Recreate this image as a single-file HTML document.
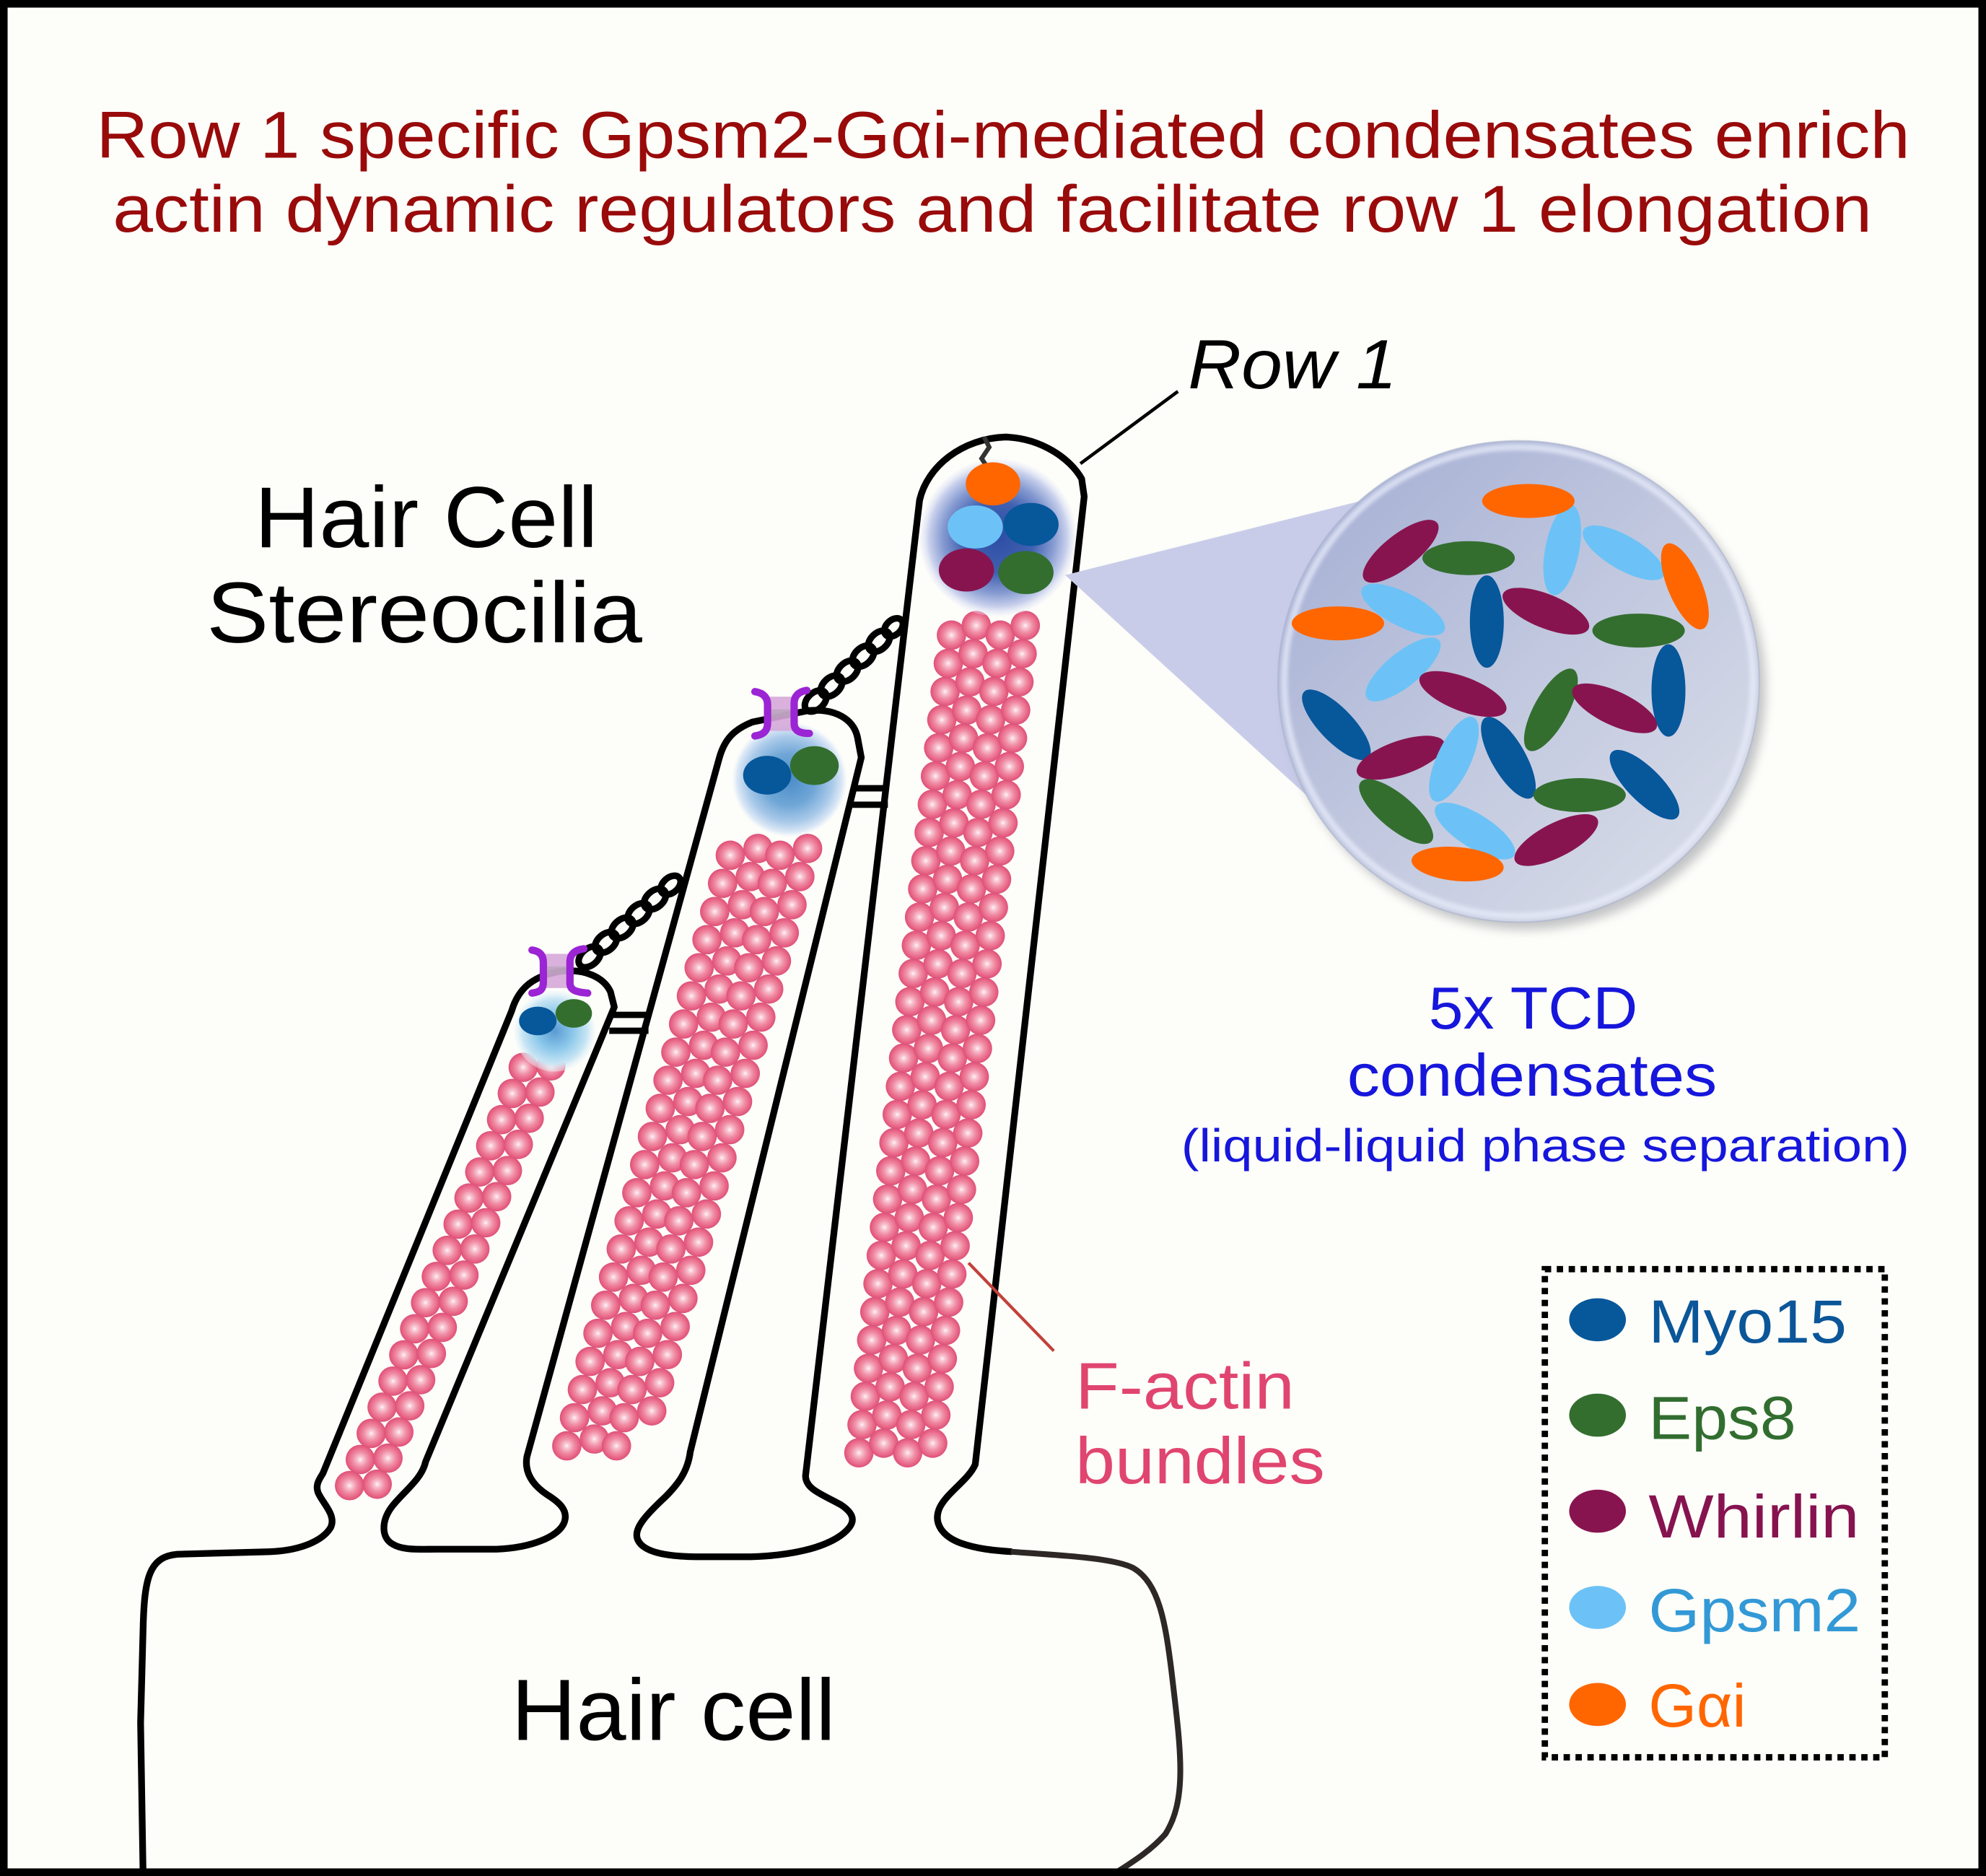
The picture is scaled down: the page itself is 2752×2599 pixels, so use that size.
<!DOCTYPE html>
<html>
<head>
<meta charset="utf-8">
<style>
html,body{margin:0;padding:0;background:#fdfdf9;overflow:hidden;}
svg{display:block;}
</style>
</head>
<body>
<svg xmlns="http://www.w3.org/2000/svg" xmlns:xlink="http://www.w3.org/1999/xlink" width="2752" height="2599" viewBox="0 0 1568 1481" preserveAspectRatio="none" font-family="'Liberation Sans', Arial, sans-serif">
<defs>
  <radialGradient id="sph" cx="0.5" cy="0.5" r="0.5">
    <stop offset="0" stop-color="#fff4f7"/>
    <stop offset="0.18" stop-color="#f8c6d2"/>
    <stop offset="0.5" stop-color="#f08ea6"/>
    <stop offset="0.82" stop-color="#e86586"/>
    <stop offset="1" stop-color="#dc5078"/>
  </radialGradient>
  <radialGradient id="g1" cx="0.5" cy="0.5" r="0.5">
    <stop offset="0" stop-color="#2d4ea5"/>
    <stop offset="0.45" stop-color="#4060b0"/>
    <stop offset="0.7" stop-color="#8499d0"/>
    <stop offset="0.88" stop-color="#c8d0ec"/>
    <stop offset="1" stop-color="#eef0fa" stop-opacity="0.3"/>
  </radialGradient>
  <radialGradient id="g2" cx="0.5" cy="0.5" r="0.5">
    <stop offset="0" stop-color="#4c8cc8"/>
    <stop offset="0.45" stop-color="#6fa6d6"/>
    <stop offset="0.75" stop-color="#a9c9e9"/>
    <stop offset="0.93" stop-color="#dde9f6"/>
    <stop offset="1" stop-color="#f2f6fb" stop-opacity="0.4"/>
  </radialGradient>
  <radialGradient id="g3" cx="0.5" cy="0.5" r="0.5">
    <stop offset="0" stop-color="#5a9ad3"/>
    <stop offset="0.45" stop-color="#8cc8ea"/>
    <stop offset="0.8" stop-color="#c8e5f4"/>
    <stop offset="1" stop-color="#eef7fb" stop-opacity="0.4"/>
  </radialGradient>
  <linearGradient id="cg" x1="0" y1="0" x2="1" y2="1">
    <stop offset="0" stop-color="#a2acd2"/>
    <stop offset="0.5" stop-color="#c1c8df"/>
    <stop offset="1" stop-color="#dde0ea"/>
  </linearGradient>
  <filter id="sh" x="-20%" y="-20%" width="140%" height="140%">
    <feGaussianBlur stdDeviation="4"/>
  </filter>
  <filter id="bl" x="-10%" y="-10%" width="120%" height="120%">
    <feGaussianBlur stdDeviation="1.5"/>
  </filter>
  <circle id="s" r="11.6" fill="url(#sph)"/>
  <g id="R1"><use xlink:href="#s" x="0" y="7.6"/><use xlink:href="#s" x="19.6" y="0"/><use xlink:href="#s" x="38.5" y="7.6"/><use xlink:href="#s" x="58.3" y="0"/></g>
  <g id="R2"><use xlink:href="#s" x="0" y="5.4"/><use xlink:href="#s" x="21.9" y="0"/><use xlink:href="#s" x="39.2" y="5.4"/><use xlink:href="#s" x="61" y="0"/></g>
  <g id="R3"><use xlink:href="#s" x="0" y="1.1"/><use xlink:href="#s" x="21.8" y="0"/></g>
</defs>

<rect x="0" y="0" width="1568" height="1481" fill="#fdfdf9"/>

<!-- Title -->
<text x="76" y="124.5" font-size="52.5" fill="#990a0a" textLength="1432" lengthAdjust="spacingAndGlyphs">Row 1 specific Gpsm2-Gαi-mediated condensates enrich</text>
<text x="89" y="183" font-size="52.5" fill="#990a0a" textLength="1389" lengthAdjust="spacingAndGlyphs">actin dynamic regulators and facilitate row 1 elongation</text>

<!-- Labels -->
<text x="201" y="432" font-size="68" fill="#000" textLength="271" lengthAdjust="spacingAndGlyphs">Hair Cell</text>
<text x="163" y="507" font-size="68" fill="#000" textLength="344" lengthAdjust="spacingAndGlyphs">Stereocilia</text>
<text x="938" y="306.5" font-size="55" font-style="italic" fill="#000" textLength="165" lengthAdjust="spacingAndGlyphs">Row 1</text>
<line x1="930" y1="309" x2="853" y2="366" stroke="#000" stroke-width="2.6"/>

<!-- Actin bundles: Row 1 -->
<g>
<use xlink:href="#R1" x="751.2" y="493.8"/>
<use xlink:href="#R1" x="748.7" y="516.1"/>
<use xlink:href="#R1" x="746.2" y="538.3"/>
<use xlink:href="#R1" x="743.6" y="560.6"/>
<use xlink:href="#R1" x="741.1" y="582.8"/>
<use xlink:href="#R1" x="738.6" y="605.1"/>
<use xlink:href="#R1" x="736.1" y="627.4"/>
<use xlink:href="#R1" x="733.6" y="649.6"/>
<use xlink:href="#R1" x="731.0" y="671.9"/>
<use xlink:href="#R1" x="728.5" y="694.1"/>
<use xlink:href="#R1" x="726.0" y="716.4"/>
<use xlink:href="#R1" x="723.5" y="738.7"/>
<use xlink:href="#R1" x="721.0" y="760.9"/>
<use xlink:href="#R1" x="718.4" y="783.2"/>
<use xlink:href="#R1" x="715.9" y="805.4"/>
<use xlink:href="#R1" x="713.4" y="827.7"/>
<use xlink:href="#R1" x="710.9" y="850.0"/>
<use xlink:href="#R1" x="708.4" y="872.2"/>
<use xlink:href="#R1" x="705.8" y="894.5"/>
<use xlink:href="#R1" x="703.3" y="916.7"/>
<use xlink:href="#R1" x="700.8" y="939.0"/>
<use xlink:href="#R1" x="698.3" y="961.3"/>
<use xlink:href="#R1" x="695.8" y="983.5"/>
<use xlink:href="#R1" x="693.2" y="1005.8"/>
<use xlink:href="#R1" x="690.7" y="1028.0"/>
<use xlink:href="#R1" x="688.2" y="1050.3"/>
<use xlink:href="#R1" x="685.7" y="1072.6"/>
<use xlink:href="#R1" x="683.2" y="1094.8"/>
<use xlink:href="#R1" x="680.6" y="1117.1"/>
<use xlink:href="#R1" x="678.1" y="1139.3"/>
</g>
<!-- Row 2 -->
<g>
<use xlink:href="#R2" x="576.6" y="669.8"/>
<use xlink:href="#R2" x="570.5" y="692.0"/>
<use xlink:href="#R2" x="564.3" y="714.2"/>
<use xlink:href="#R2" x="558.2" y="736.4"/>
<use xlink:href="#R2" x="552.0" y="758.6"/>
<use xlink:href="#R2" x="545.9" y="780.8"/>
<use xlink:href="#R2" x="539.7" y="803.0"/>
<use xlink:href="#R2" x="533.6" y="825.2"/>
<use xlink:href="#R2" x="527.4" y="847.4"/>
<use xlink:href="#R2" x="521.3" y="869.6"/>
<use xlink:href="#R2" x="515.1" y="891.8"/>
<use xlink:href="#R2" x="509.0" y="914.0"/>
<use xlink:href="#R2" x="502.8" y="936.2"/>
<use xlink:href="#R2" x="496.7" y="958.4"/>
<use xlink:href="#R2" x="490.5" y="980.6"/>
<use xlink:href="#R2" x="484.4" y="1002.8"/>
<use xlink:href="#R2" x="478.2" y="1025.0"/>
<use xlink:href="#R2" x="472.1" y="1047.2"/>
<use xlink:href="#R2" x="465.9" y="1069.4"/>
<use xlink:href="#R2" x="459.8" y="1091.6"/>
<use xlink:href="#R2" x="453.6" y="1113.8"/>
<use xlink:href="#s" x="447.5" y="1141.4"/>
<use xlink:href="#s" x="469.3" y="1136"/>
<use xlink:href="#s" x="486.7" y="1141.4"/>
</g>
<!-- Row 3 -->
<g>
<use xlink:href="#R3" x="413.1" y="841.5"/>
<use xlink:href="#R3" x="404.5" y="862.1"/>
<use xlink:href="#R3" x="396.0" y="882.8"/>
<use xlink:href="#R3" x="387.4" y="903.4"/>
<use xlink:href="#R3" x="378.8" y="924.1"/>
<use xlink:href="#R3" x="370.3" y="944.7"/>
<use xlink:href="#R3" x="361.7" y="965.3"/>
<use xlink:href="#R3" x="353.1" y="986.0"/>
<use xlink:href="#R3" x="344.5" y="1006.6"/>
<use xlink:href="#R3" x="336.0" y="1027.3"/>
<use xlink:href="#R3" x="327.4" y="1047.9"/>
<use xlink:href="#R3" x="318.8" y="1068.5"/>
<use xlink:href="#R3" x="310.3" y="1089.2"/>
<use xlink:href="#R3" x="301.7" y="1109.8"/>
<use xlink:href="#R3" x="293.1" y="1130.5"/>
<use xlink:href="#R3" x="284.5" y="1151.1"/>
<use xlink:href="#R3" x="276.0" y="1171.7"/>
</g>

<!-- Condensate glows -->
<circle cx="788" cy="424.5" r="62" fill="url(#g1)"/>
<circle cx="623.4" cy="615.4" r="45" fill="url(#g2)"/>
<circle cx="438" cy="814" r="32" fill="url(#g3)"/>

<!-- Outline -->
<path d="M113,1482 L111,1360 L113,1285 C114,1245 118,1229 140,1227 L213,1225 C238,1224 255,1216 261,1206 C266,1196 254,1186 251,1178 C249,1172 252,1168 255,1163 L404,798 C409,781 420,771 441,767 C462,764 477,772 482,783 L485,795 L336,1154 C333,1168 318,1178 309,1190 C301,1201 301,1214 310,1219 C318,1224 330,1223 345,1223 L392,1223 C420,1222 440,1213 445,1203 C450,1192 440,1185 432,1180 C420,1172 414,1162 416,1150 L568,598 C572,584 579,576 594,570 L638,561 C660,559 674,568 677,582 L680,598 L545,1146 C543,1162 535,1172 525,1182 C510,1196 501,1206 503,1214 C506,1225 525,1229 553,1229 L593,1229 C625,1228 650,1222 664,1212 C676,1203 676,1196 664,1188 C650,1180 636,1176 636,1165 L726,395 C732,368 760,346 794,345 C822,346 845,362 854,378 L856,392 L770,1156 C765,1168 748,1178 742,1190 C736,1203 745,1213 758,1218 C772,1223 785,1224 799,1225" fill="none" stroke="#000" stroke-width="5.3" stroke-linejoin="round"/>
<path d="M798,1225 C840,1228 880,1230 895,1238 C915,1250 920,1280 925,1320 C932,1380 938,1420 920,1448 C905,1465 885,1475 873,1484" fill="none" stroke="#2d2826" stroke-width="4.6"/>

<!-- Side links -->
<g stroke="#000" stroke-width="5">
<line x1="673" y1="622.3" x2="701" y2="622.3"/>
<line x1="673" y1="635.3" x2="701" y2="635.3"/>
<line x1="481" y1="801.2" x2="512" y2="801.2"/>
<line x1="481" y1="813.7" x2="512" y2="813.7"/>
</g>

<!-- Tip link chains -->
<g fill="none" stroke="#000" stroke-width="5.2">
<ellipse cx="644.0" cy="553.4" rx="10" ry="6.5" transform="rotate(-43.4 644.0 553.4)"/>
<ellipse cx="656.5" cy="541.6" rx="10" ry="6.5" transform="rotate(-43.4 656.5 541.6)"/>
<ellipse cx="669.0" cy="529.8" rx="10" ry="6.5" transform="rotate(-43.4 669.0 529.8)"/>
<ellipse cx="681.5" cy="518.0" rx="10" ry="6.5" transform="rotate(-43.4 681.5 518.0)"/>
<ellipse cx="694.0" cy="506.2" rx="10" ry="6.5" transform="rotate(-43.4 694.0 506.2)"/>
<ellipse cx="705.5" cy="495.3" rx="8.5" ry="5.8" transform="rotate(-43.4 705.5 495.3)"/>
<ellipse cx="465.5" cy="755.4" rx="10" ry="6.5" transform="rotate(-41.3 465.5 755.4)"/>
<ellipse cx="478.4" cy="744.0" rx="10" ry="6.5" transform="rotate(-41.3 478.4 744.0)"/>
<ellipse cx="491.3" cy="732.6" rx="10" ry="6.5" transform="rotate(-41.3 491.3 732.6)"/>
<ellipse cx="504.2" cy="721.2" rx="10" ry="6.5" transform="rotate(-41.3 504.2 721.2)"/>
<ellipse cx="517.1" cy="709.8" rx="10" ry="6.5" transform="rotate(-41.3 517.1 709.8)"/>
<ellipse cx="529.5" cy="698.8" rx="9" ry="6" transform="rotate(-41.3 529.5 698.8)"/>
</g>
<path d="M777,345 L781,353 L775,362 L781,371" fill="none" stroke="#333" stroke-width="3.6" stroke-linejoin="miter"/>

<!-- Channels -->
<g>
<rect x="604" y="550" width="25" height="27" fill="#d5a9d8" opacity="0.9"/>
<rect x="604" y="560" width="25" height="6" fill="#b7a3b9" opacity="0.7"/>
<path d="M596,546 C603,547 606,551 606,556 L606,571 C606,577 603,580 596,581" fill="none" stroke="#9b24d4" stroke-width="5.8" stroke-linecap="round"/>
<path d="M637,545 C630,546 627,550 627,555 L627,571 C627,576 630,579 639,579" fill="none" stroke="#9b24d4" stroke-width="5.8" stroke-linecap="round"/>
<rect x="428" y="753" width="23" height="27" fill="#d5a9d8" opacity="0.9"/>
<rect x="428" y="763" width="23" height="6" fill="#b7a3b9" opacity="0.7"/>
<path d="M420,750 C427,751 429,755 429,760 L429,775 C429,781 427,783 420,784" fill="none" stroke="#9b24d4" stroke-width="5.8" stroke-linecap="round"/>
<path d="M461,749 C453,750 450,754 450,759 L450,776 C450,781 453,783 464,784" fill="none" stroke="#9b24d4" stroke-width="5.8" stroke-linecap="round"/>
</g>

<!-- Condensate proteins in stereocilia -->
<ellipse cx="784" cy="382" rx="21.5" ry="17" fill="#ff6600"/>
<ellipse cx="770" cy="416" rx="21.8" ry="17" fill="#6cc2f6"/>
<ellipse cx="814" cy="414" rx="21.8" ry="17" fill="#07579b"/>
<ellipse cx="763" cy="450" rx="21.8" ry="17" fill="#88144f"/>
<ellipse cx="810" cy="452" rx="21.8" ry="17" fill="#336e2f"/>
<ellipse cx="605.7" cy="612" rx="19" ry="15.3" fill="#07579b"/>
<ellipse cx="643" cy="604.4" rx="19.2" ry="15.3" fill="#336e2f"/>
<ellipse cx="424.6" cy="806" rx="14.8" ry="11.3" fill="#07579b"/>
<ellipse cx="453" cy="800" rx="14.4" ry="11.3" fill="#336e2f"/>

<!-- Funnel -->
<polygon points="841,454 1100,389 1070,663" fill="#c9cce9"/>

<!-- Big circle -->
<circle cx="1204" cy="544" r="190" fill="#8a8c94" opacity="0.5" filter="url(#sh)"/>
<circle cx="1199" cy="538" r="190" fill="url(#cg)"/>
<circle cx="1199" cy="538" r="185" fill="none" stroke="#e8ecfa" stroke-width="5" opacity="0.75" filter="url(#bl)"/>
<circle cx="1199" cy="538" r="190" fill="none" stroke="#aab2cc" stroke-width="1.2" opacity="0.6"/>

<g>
<ellipse cx="1233.4" cy="434.0" rx="36.5" ry="13.4" fill="#6cc2f6" transform="rotate(-79 1233.4 434.0)"/>
<ellipse cx="1206.7" cy="395.5" rx="36.5" ry="13.4" fill="#ff6600"/>
<ellipse cx="1105.9" cy="435.2" rx="36.5" ry="13.4" fill="#88144f" transform="rotate(-38 1105.9 435.2)"/>
<ellipse cx="1159.5" cy="440.6" rx="36.5" ry="13.4" fill="#336e2f"/>
<ellipse cx="1281.9" cy="436.4" rx="36.5" ry="13.4" fill="#6cc2f6" transform="rotate(30 1281.9 436.4)"/>
<ellipse cx="1330.3" cy="462.9" rx="36.5" ry="13.4" fill="#ff6600" transform="rotate(67 1330.3 462.9)"/>
<ellipse cx="1107.8" cy="481.3" rx="36.5" ry="13.4" fill="#6cc2f6" transform="rotate(27 1107.8 481.3)"/>
<ellipse cx="1056.3" cy="492.1" rx="36.5" ry="13.4" fill="#ff6600"/>
<ellipse cx="1173.9" cy="490.7" rx="36.5" ry="13.4" fill="#07579b" transform="rotate(90 1173.9 490.7)"/>
<ellipse cx="1220.5" cy="482.5" rx="36.5" ry="13.4" fill="#88144f" transform="rotate(22 1220.5 482.5)"/>
<ellipse cx="1293.7" cy="497.8" rx="36.5" ry="13.4" fill="#336e2f"/>
<ellipse cx="1107.8" cy="528.5" rx="36.5" ry="13.4" fill="#6cc2f6" transform="rotate(-39 1107.8 528.5)"/>
<ellipse cx="1317.3" cy="545.1" rx="36.5" ry="13.4" fill="#07579b" transform="rotate(90 1317.3 545.1)"/>
<ellipse cx="1155.0" cy="547.9" rx="36.5" ry="13.4" fill="#88144f" transform="rotate(21 1155.0 547.9)"/>
<ellipse cx="1224.5" cy="560.4" rx="36.5" ry="13.4" fill="#336e2f" transform="rotate(-61 1224.5 560.4)"/>
<ellipse cx="1274.8" cy="559.2" rx="36.5" ry="13.4" fill="#88144f" transform="rotate(25 1274.8 559.2)"/>
<ellipse cx="1055.1" cy="572.2" rx="36.5" ry="13.4" fill="#07579b" transform="rotate(46 1055.1 572.2)"/>
<ellipse cx="1105.9" cy="598.2" rx="36.5" ry="13.4" fill="#88144f" transform="rotate(-19 1105.9 598.2)"/>
<ellipse cx="1147.9" cy="599.4" rx="36.5" ry="13.4" fill="#6cc2f6" transform="rotate(-65 1147.9 599.4)"/>
<ellipse cx="1190.9" cy="598.2" rx="36.5" ry="13.4" fill="#07579b" transform="rotate(60 1190.9 598.2)"/>
<ellipse cx="1102.3" cy="640.7" rx="36.5" ry="13.4" fill="#336e2f" transform="rotate(40 1102.3 640.7)"/>
<ellipse cx="1247.1" cy="627.7" rx="36.5" ry="13.4" fill="#336e2f"/>
<ellipse cx="1298.4" cy="619.5" rx="36.5" ry="13.4" fill="#07579b" transform="rotate(45 1298.4 619.5)"/>
<ellipse cx="1164.5" cy="656.1" rx="36.5" ry="13.4" fill="#6cc2f6" transform="rotate(32 1164.5 656.1)"/>
<ellipse cx="1228.7" cy="663.2" rx="36.5" ry="13.4" fill="#88144f" transform="rotate(-27 1228.7 663.2)"/>
<ellipse cx="1150.8" cy="682.1" rx="36.5" ry="13.4" fill="#ff6600" transform="rotate(5 1150.8 682.1)"/>
</g>

<!-- Condensate text -->
<text x="1128" y="812" font-size="47" fill="#1616dc" textLength="165" lengthAdjust="spacingAndGlyphs">5x TCD</text>
<text x="1063.6" y="865" font-size="47" fill="#1616dc" textLength="292" lengthAdjust="spacingAndGlyphs">condensates</text>
<text x="932.6" y="917" font-size="36.5" fill="#1616dc" textLength="575" lengthAdjust="spacingAndGlyphs">(liquid-liquid phase separation)</text>

<!-- F-actin label -->
<line x1="764.7" y1="997" x2="832" y2="1066.5" stroke="#c0423a" stroke-width="2.4"/>
<text x="849" y="1112" font-size="52" fill="#e0456f" textLength="173" lengthAdjust="spacingAndGlyphs">F-actin</text>
<text x="849" y="1171" font-size="52" fill="#e0456f" textLength="197" lengthAdjust="spacingAndGlyphs">bundles</text>

<!-- Hair cell label -->
<text x="403.7" y="1373.5" font-size="69" fill="#000" textLength="256" lengthAdjust="spacingAndGlyphs">Hair cell</text>

<!-- Legend -->
<rect x="1219.7" y="1001.9" width="268.4" height="385.4" fill="none" stroke="#000" stroke-width="5" stroke-dasharray="5 4.4"/>
<ellipse cx="1261.3" cy="1041.9" rx="22.4" ry="17" fill="#07579b"/>
<ellipse cx="1261.3" cy="1117.2" rx="22.4" ry="17" fill="#336e2f"/>
<ellipse cx="1261.3" cy="1193" rx="22.4" ry="17" fill="#88144f"/>
<ellipse cx="1261.3" cy="1269" rx="22.4" ry="17" fill="#6cc2f6"/>
<ellipse cx="1261.3" cy="1345.6" rx="22.4" ry="17" fill="#ff6600"/>
<text x="1301.6" y="1060" font-size="48" fill="#0b5699" textLength="156.4" lengthAdjust="spacingAndGlyphs">Myo15</text>
<text x="1301.6" y="1136" font-size="48" fill="#326d30" textLength="116.4" lengthAdjust="spacingAndGlyphs">Eps8</text>
<text x="1301.6" y="1213.8" font-size="48" fill="#86134f" textLength="166.4" lengthAdjust="spacingAndGlyphs">Whirlin</text>
<text x="1301.6" y="1287.8" font-size="48" fill="#3399d6" textLength="167.4" lengthAdjust="spacingAndGlyphs">Gpsm2</text>
<text x="1301.6" y="1363" font-size="48" fill="#ff6600" textLength="77" lengthAdjust="spacingAndGlyphs">Gαi</text>

<!-- Frame -->
<rect x="3" y="3" width="1562" height="1475" fill="none" stroke="#000" stroke-width="6"/>
</svg>
</body>
</html>
